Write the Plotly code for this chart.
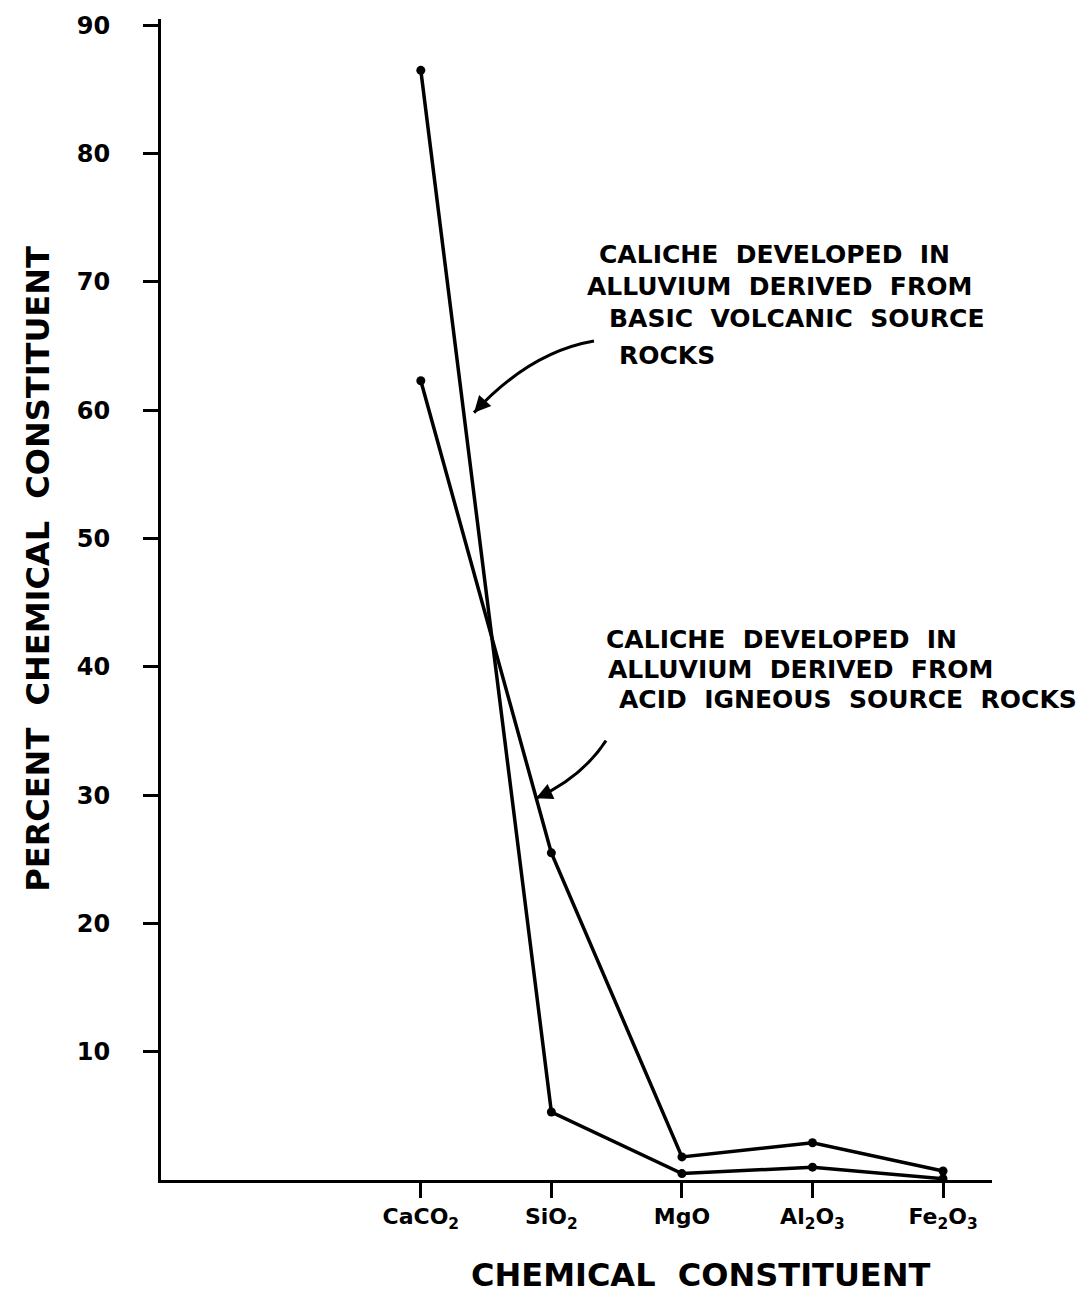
import plotly.graph_objects as go

# ---- data ----
categories = ["CaCO<sub>2</sub>", "SiO<sub>2</sub>", "MgO", "Al<sub>2</sub>O<sub>3</sub>", "Fe<sub>2</sub>O<sub>3</sub>"]
basic_volcanic = [86.5, 5.3, 0.5, 1.0, 0.1]
acid_igneous = [62.3, 25.5, 1.8, 2.9, 0.7]
y_tick_values = [10, 20, 30, 40, 50, 60, 70, 80, 90]
y_tick_labels = ["10", "20", "30", "40", "50", "60", "70", "80", "90"]
x_positions = list(range(len(categories)))

FONT = "DejaVu Sans"
W, H = 1083, 1295
L, R, T, B = 161, 91, 12, 115
PW, PH = W - L - R, H - T - B


def px_x(px):
    return (px - L) / PW


def px_y(py):
    return (H - B - py) / PH


fig = go.Figure()
for vals in (basic_volcanic, acid_igneous):
    fig.add_trace(go.Scatter(
        x=x_positions, y=vals, mode="lines+markers",
        line=dict(color="black", width=3.5),
        marker=dict(color="black", size=9),
        cliponaxis=False, showlegend=False,
    ))

annotations = []
# text blocks (left x, center y in pixels)
text_lines = [
    ("CALICHE  DEVELOPED  IN", 597, 249),
    ("ALLUVIUM  DERIVED  FROM", 585, 281),
    ("BASIC  VOLCANIC  SOURCE", 607, 313),
    ("ROCKS", 617, 351),
    ("CALICHE  DEVELOPED  IN", 604, 636),
    ("ALLUVIUM  DERIVED  FROM", 606, 666),
    ("ACID  IGNEOUS  SOURCE  ROCKS", 617, 697),
]
for txt, x, y in text_lines:
    annotations.append(dict(
        text=txt, x=px_x(x), y=px_y(y), xref="paper", yref="paper",
        xanchor="left", yanchor="middle", showarrow=False,
        font=dict(family=FONT, size=25, color="black", weight="bold"),
    ))

# axis titles
annotations.append(dict(
    text="CHEMICAL  CONSTITUENT", x=px_x(701), y=px_y(1276), xref="paper", yref="paper",
    xanchor="center", yanchor="middle", showarrow=False,
    font=dict(family=FONT, size=32, color="black", weight="bold"),
))
annotations.append(dict(
    text="PERCENT  CHEMICAL  CONSTITUENT", x=px_x(38), y=px_y(565), xref="paper", yref="paper",
    xanchor="center", yanchor="middle", showarrow=False, textangle=-90,
    font=dict(family=FONT, size=32, color="black", weight="bold"),
))

# curved arrows
shapes = []
arrows = [
    ((594, 336), (530, 347), (474, 408)),
    ((606, 738), (582, 775), (536, 796)),
]
for (x0, y0), (cx, cy), (x1, y1) in arrows:
    path = (f"M {px_x(x0)},{px_y(y0)} Q {px_x(cx)},{px_y(cy)} {px_x(x1)},{px_y(y1)}")
    shapes.append(dict(type="path", path=path, xref="paper", yref="paper",
                       line=dict(color="black", width=3)))
    dx, dy = x1 - cx, y1 - cy
    n = (dx * dx + dy * dy) ** 0.5
    annotations.append(dict(
        text="", x=px_x(x1), y=px_y(y1), xref="paper", yref="paper",
        ax=-dx / n * 14, ay=-dy / n * 14, showarrow=True,
        arrowhead=2, arrowsize=1.1, arrowwidth=3, arrowcolor="black", standoff=0,
    ))

fig.update_layout(
    width=W, height=H,
    margin=dict(l=L, r=R, t=T, b=B, pad=0),
    paper_bgcolor="white", plot_bgcolor="white",
    showlegend=False,
    annotations=annotations,
    shapes=shapes,
    xaxis=dict(
        range=[-1.99, 4.375], tickvals=x_positions, ticktext=categories,
        ticks="outside", ticklen=15, tickwidth=2.5, tickcolor="black",
        showline=True, linewidth=3, linecolor="black",
        showgrid=False, zeroline=False,
        tickfont=dict(family=FONT, size=22, color="black", weight="bold"),
    ),
    yaxis=dict(
        range=[0, 90.5], tickvals=y_tick_values, ticktext=y_tick_labels,
        ticks="outside", ticklen=15, tickwidth=2.5, tickcolor="black",
        showline=True, linewidth=3, linecolor="black",
        showgrid=False, zeroline=False, ticklabelstandoff=28,
        tickfont=dict(family=FONT, size=24, color="black", weight="bold"),
    ),
)

fig.write_html("out.html")
